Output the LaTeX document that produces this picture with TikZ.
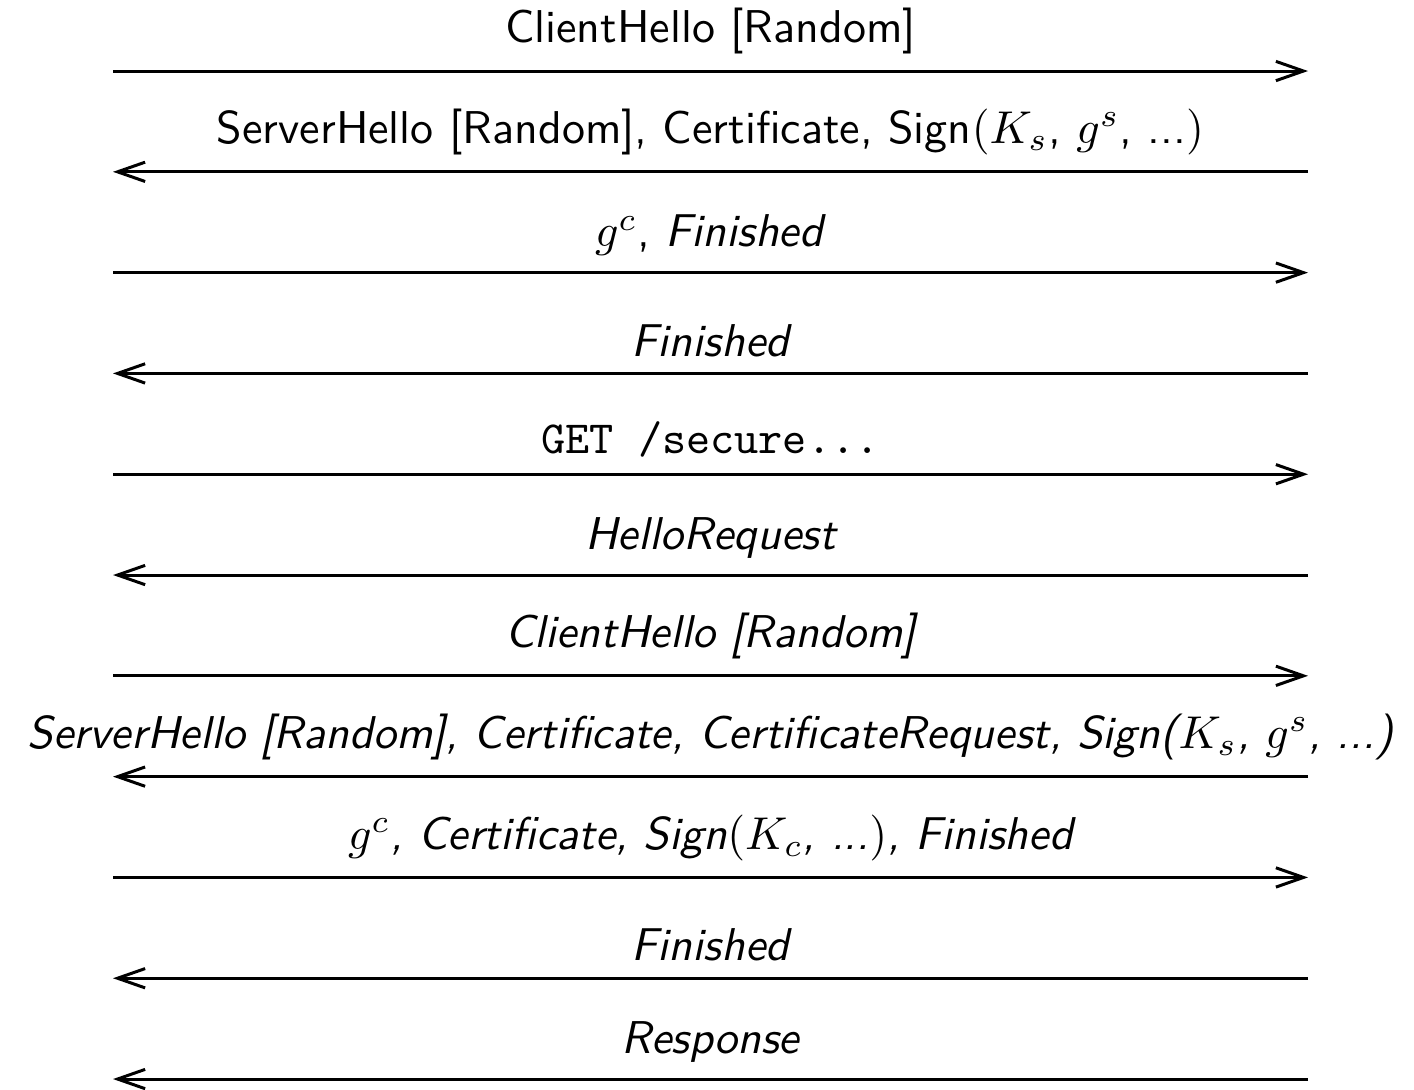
\documentclass[tikz,border=0pt]{standalone}
\usetikzlibrary{arrows.meta}
\begin{document}
\begin{tikzpicture}[x=0.21739pt, y=-0.21739pt,
    msg/.style={line width=0.65pt, -{Straight Barb[length=6pt,width=4.2pt,line width=0.65pt]}},
    lbl/.style={midway, above, font=\sffamily},
    ilbl/.style={lbl, font=\sffamily\itshape}]
\useasboundingbox (0,0) rectangle (1414,1089);
% client (left) and server (right) ends of every message line
\foreach \i in {1,...,11} {
  \coordinate (C\i) at (113, {71 + 100.8*(\i-1)});
  \coordinate (S\i) at (1308, {71 + 100.8*(\i-1)});
}
% initial handshake
\draw[msg] (C1) -- (S1) node[lbl] (m1) {ClientHello [Random]};
\draw[msg] (S2) -- (C2) node[lbl] (m2) {ServerHello [Random], Certificate, Sign$(K_s$, $g^s$, ...$)$};
\draw[msg] (C3) -- (S3) node[lbl] (m3) {$g^c$, \textit{Finished}};
\draw[msg] (S4) -- (C4) node[ilbl] (m4) {Finished};
% application request
\draw[msg] (C5) -- (S5) node[lbl] (m5) {\ttfamily GET /secure...};
% renegotiation with client certificate
\draw[msg] (S6) -- (C6) node[ilbl] (m6) {HelloRequest};
\draw[msg] (C7) -- (S7) node[ilbl] (m7) {ClientHello [Random]};
\draw[msg] (S8) -- (C8) node[ilbl] (m8) {ServerHello [Random], Certificate, CertificateRequest, Sign($K_s$, $g^s$, ...)};
\draw[msg] (C9) -- (S9) node[ilbl] (m9) {$g^c$, Certificate, Sign$(K_c$, ...$)$, Finished};
\draw[msg] (S10) -- (C10) node[ilbl] (m10) {Finished};
\draw[msg] (S11) -- (C11) node[ilbl] (m11) {Response};
\end{tikzpicture}
\end{document}
